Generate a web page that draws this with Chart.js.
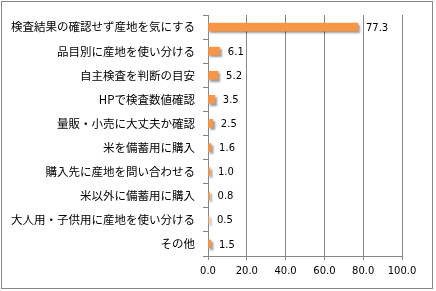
<!DOCTYPE html>
<html lang="ja">
<head>
  <meta charset="utf-8">
  <title>Graphics</title>
  <style>
    body {
      margin: 0;
      background: #fff;
    }
    #chart-container {
      width: 436px;
      height: 291px;
    }
    canvas {
      display: block;
    }
  </style>
  <script src="https://cdn.jsdelivr.net/npm/chart.js"></script>
</head>
<body>
<div id="chart-container">
  <canvas id="barChart"></canvas>
</div>
<script>
// dati del grafico
var categories = [
  '検査結果の確認せず産地を気にする',
  '品目別に産地を使い分ける',
  '自主検査を判断の目安',
  'HPで検査数値確認',
  '量販・小売に大丈夫か確認',
  '米を備蓄用に購入',
  '購入先に産地を問い合わせる',
  '米以外に備蓄用に購入',
  '大人用・子供用に産地を使い分ける',
  'その他'
];
var values = [77.3, 6.1, 5.2, 3.5, 2.5, 1.6, 1.0, 0.8, 0.5, 1.5];
var xMin = 0;
var xMax = 100;
var xStep = 20;

var gray = '#868686';

// ombra sotto le barre
var shadowPlugin = {
  id: 'barShadow',
  beforeDatasetsDraw: function(chart) {
    var ctx = chart.ctx;
    ctx.save();
    ctx.shadowColor = 'rgba(0,0,0,0.4)';
    ctx.shadowBlur = 2;
    ctx.shadowOffsetX = 2;
    ctx.shadowOffsetY = 2;
  },
  afterDatasetsDraw: function(chart) {
    chart.ctx.restore();
  }
};

// etichette con i valori
var valueLabels = {
  id: 'valueLabels',
  afterDraw: function(chart) {
    var ctx = chart.ctx;
    var meta = chart.getDatasetMeta(0);
    ctx.save();
    ctx.font = '10px "DejaVu Sans"';
    ctx.fillStyle = '#000';
    ctx.textAlign = 'left';
    ctx.textBaseline = 'middle';
    meta.data.forEach(function(bar, i) {
      ctx.fillText(values[i].toFixed(1), bar.x + 8, bar.y + 1);
    });
    ctx.restore();
  }
};

// bordo esterno
var framePlugin = {
  id: 'frame',
  afterDraw: function(chart) {
    var ctx = chart.ctx;
    ctx.save();
    ctx.strokeStyle = gray;
    ctx.lineWidth = 1;
    ctx.strokeRect(1.5, 1.5, 431, 287);
    ctx.restore();
  }
};

var ctx = document.getElementById('barChart').getContext('2d');
var barChart = new Chart(ctx, {
  type: 'bar',
  data: {
    labels: categories,
    datasets: [{
      data: values,
      backgroundColor: '#F79646',
      borderWidth: 0,
      barThickness: 8
    }]
  },
  options: {
    indexAxis: 'y',
    responsive: true,
    maintainAspectRatio: false,
    animation: false,
    layout: {
      padding: { top: 15, right: 34, bottom: 0, left: 0 }
    },
    plugins: {
      legend: { display: false },
      tooltip: { enabled: false }
    },
    scales: {
      x: {
        min: xMin,
        max: xMax,
        ticks: {
          stepSize: xStep,
          padding: 5,
          color: '#000',
          font: { family: 'DejaVu Sans', size: 10 },
          callback: function(v) { return Number(v).toFixed(1); }
        },
        grid: { color: gray, tickLength: 4 },
        border: { color: gray },
        afterFit: function(scale) { scale.height = 35; }
      },
      y: {
        ticks: {
          padding: 8,
          color: '#000',
          font: { family: '"Noto Sans CJK JP"', size: 11.5 }
        },
        grid: { color: gray, drawOnChartArea: false, tickLength: 5, offset: true },
        border: { color: gray },
        afterFit: function(scale) { scale.width = 208; }
      }
    }
  },
  plugins: [shadowPlugin, valueLabels, framePlugin]
});
</script>
</body>
</html>
